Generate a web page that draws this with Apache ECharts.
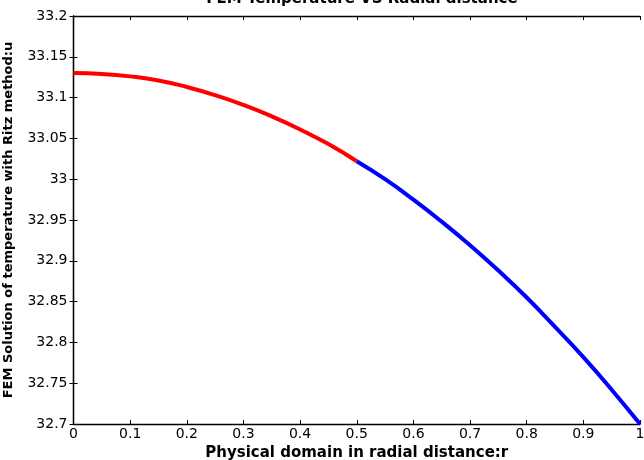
<!DOCTYPE html>
<html><head><meta charset="utf-8">
<script src="https://cdn.jsdelivr.net/npm/echarts@6/dist/echarts.min.js"></script>
<style>html,body{margin:0;padding:0;background:#fff}#c{width:644px;height:460px}</style>
</head><body><div id="c"></div>
<script>
const rValues = [0, 0.05, 0.1, 0.15, 0.2, 0.25, 0.3, 0.35, 0.4, 0.45, 0.5, 0.55, 0.6, 0.65, 0.7, 0.75, 0.8, 0.85, 0.9, 0.95, 1.0];
const uValues = [33.130, 33.129, 33.126, 33.121, 33.113, 33.103, 33.091, 33.077, 33.061, 33.043, 33.022, 33.000, 32.975, 32.948, 32.919, 32.888, 32.855, 32.819, 32.782, 32.742, 32.700];
const splitR = 0.5;
const titleText = 'FEM Temperature VS Radial distance';
const xName = 'Physical domain in radial distance:r';
const yName = 'FEM Solution of temperature with Ritz method:u';

const redData = [], blueData = [];
rValues.forEach((r, i) => {
  if (r <= splitR) redData.push([r, uValues[i]]);
  if (r >= splitR) blueData.push([r, uValues[i]]);
});

const font = 'DejaVu Sans, sans-serif';
const chart = echarts.init(document.getElementById('c'), null, {renderer: 'canvas'});
const fmt = v => String(+(+v).toFixed(2));
const axisLine = {show: true, lineStyle: {color: '#000', width: 1.3}};
const tick = {show: true, inside: true, length: 4, lineStyle: {color: '#000', width: 1}};
chart.setOption({
  animation: false,
  backgroundColor: '#fff',
  title: {text: titleText, left: 357, textAlign: 'center', top: -13,
    textStyle: {fontFamily: font, fontSize: 15, fontWeight: 'bold', color: '#000'}},
  grid: {left: 73.5, right: 4, top: 16, bottom: 36, containLabel: false, outerBoundsMode: 'none'},
  xAxis: [
    {type: 'value', min: 0, max: 1, interval: 0.1, position: 'bottom',
     name: xName, nameLocation: 'middle', nameGap: 20,
     nameTextStyle: {fontFamily: font, fontSize: 15, fontWeight: 'bold', color: '#000'},
     axisLine: axisLine, axisTick: tick, splitLine: {show: false},
     axisLabel: {fontFamily: font, fontSize: 14, color: '#000', margin: 3, formatter: fmt}},
    {type: 'value', min: 0, max: 1, interval: 0.1, position: 'top',
     axisLine: axisLine, axisTick: tick, splitLine: {show: false}, axisLabel: {show: false}}
  ],
  yAxis: [
    {type: 'value', min: 32.7, max: 33.2, interval: 0.05, position: 'left',
     name: yName, nameLocation: 'middle', nameGap: 58,
     nameTextStyle: {fontFamily: font, fontSize: 13, fontWeight: 'bold', color: '#000'},
     axisLine: axisLine, axisTick: tick, splitLine: {show: false},
     axisLabel: {fontFamily: font, fontSize: 14, color: '#000', margin: 6, formatter: fmt}},
    {type: 'value', min: 32.7, max: 33.2, interval: 0.05, position: 'right',
     axisLine: axisLine, axisTick: tick, splitLine: {show: false}, axisLabel: {show: false}}
  ],
  series: [
    {type: 'line', data: redData, showSymbol: false, symbol: 'none', smooth: true,
     lineStyle: {color: '#ff0000', width: 4}, xAxisIndex: 0, yAxisIndex: 0},
    {type: 'line', data: blueData, showSymbol: false, symbol: 'none', smooth: true,
     lineStyle: {color: '#0000ff', width: 4}, xAxisIndex: 0, yAxisIndex: 0}
  ]
});
</script></body></html>
